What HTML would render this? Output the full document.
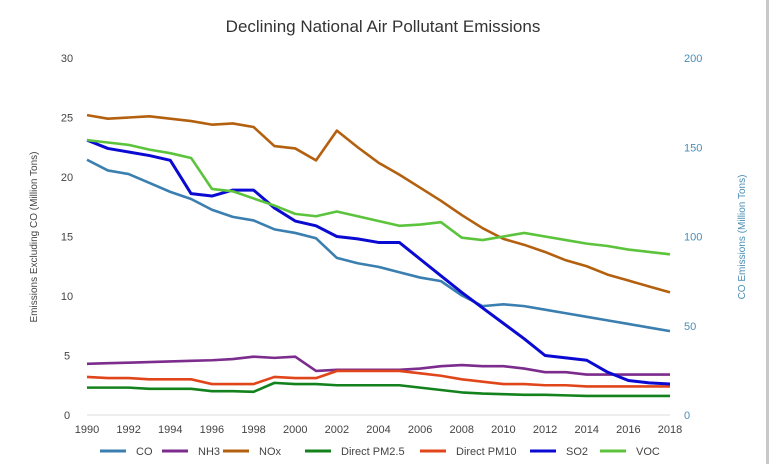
<!DOCTYPE html>
<html><head><meta charset="utf-8"><style>
body{margin:0;background:#fff;width:769px;height:464px;overflow:hidden;font-family:"Liberation Sans",sans-serif}
svg text{font-family:"Liberation Sans",sans-serif}
</style></head><body>
<svg id="c" width="769" height="464">
<rect x="766" y="0" width="3" height="464" fill="#c8c8c8"/>
<text x="383" y="32" text-anchor="middle" font-size="17" fill="#333">Declining National Air Pollutant Emissions</text>
<text transform="translate(37,237) rotate(-90)" text-anchor="middle" font-size="10" fill="#444">Emissions Excluding CO (Million Tons)</text>
<text transform="translate(745,237) rotate(-90)" text-anchor="middle" font-size="10" fill="#4a8db5">CO Emissions (Million Tons)</text>
<g id="g"></g>
</svg>
<script>
const years=[1990,1991,1992,1993,1994,1995,1996,1997,1998,1999,2000,2001,2002,2003,2004,2005,2006,2007,2008,2009,2010,2011,2012,2013,2014,2015,2016,2017,2018];
const xTicks=[1990,1992,1994,1996,1998,2000,2002,2004,2006,2008,2010,2012,2014,2016,2018];
const leftTicks=[0,5,10,15,20,25,30];
const rightTicks=[0,50,100,150,200];
const co=[143,137,135,130,125,121,115,111,109,104,102,99,88,85,83,80,77,75,67,61,62,61,59,57,55,53,51,49,47];
const nh3=[4.3,4.35,4.4,4.45,4.5,4.55,4.6,4.7,4.9,4.8,4.9,3.7,3.8,3.8,3.8,3.8,3.9,4.1,4.2,4.1,4.1,3.9,3.6,3.6,3.4,3.4,3.4,3.4,3.4];
const nox=[25.2,24.9,25.0,25.1,24.9,24.7,24.4,24.5,24.2,22.6,22.4,21.4,23.9,22.5,21.2,20.2,19.1,18.0,16.8,15.7,14.8,14.3,13.7,13.0,12.5,11.8,11.3,10.8,10.3];
const pm25=[2.3,2.3,2.3,2.2,2.2,2.2,2.0,2.0,1.95,2.7,2.6,2.6,2.5,2.5,2.5,2.5,2.3,2.1,1.9,1.8,1.75,1.7,1.7,1.65,1.6,1.6,1.6,1.6,1.6];
const pm10=[3.2,3.1,3.1,3.0,3.0,3.0,2.6,2.6,2.6,3.2,3.1,3.1,3.7,3.7,3.7,3.7,3.5,3.3,3.0,2.8,2.6,2.6,2.5,2.5,2.4,2.4,2.4,2.4,2.4];
const so2=[23.1,22.4,22.1,21.8,21.4,18.6,18.4,18.9,18.9,17.4,16.3,15.9,15.0,14.8,14.5,14.5,13.1,11.7,10.3,9.0,7.7,6.4,5.0,4.8,4.6,3.6,2.9,2.7,2.6];
const voc=[23.1,22.9,22.7,22.3,22.0,21.6,19.0,18.8,18.2,17.6,16.9,16.7,17.1,16.7,16.3,15.9,16.0,16.2,14.9,14.7,15.0,15.3,15.0,14.7,14.4,14.2,13.9,13.7,13.5];
const series=[
 {name:'CO',data:co,color:'#3a7fb0',right:true},
 {name:'NH3',data:nh3,color:'#7b2c8c'},
 {name:'NOx',data:nox,color:'#b3600f'},
 {name:'Direct PM2.5',data:pm25,color:'#14821c'},
 {name:'Direct PM10',data:pm10,color:'#e0461a'},
 {name:'SO2',data:so2,color:'#0a0ad2'},
 {name:'VOC',data:voc,color:'#5cc43c'}];
const X0=87,X1=670,Y0=415,Y1=58;
const x=v=>X0+(v-1990)/28*(X1-X0);
const yl=v=>Y0-v/30*(Y0-Y1);
const yr=v=>Y0-v/200*(Y0-Y1);
const g=document.getElementById('g');const NS='http://www.w3.org/2000/svg';
function mk(t,a){const e=document.createElementNS(NS,t);for(const k in a)e.setAttribute(k,a[k]);g.appendChild(e);return e;}
const base=mk('line',{x1:X0,x2:X1,y1:Y0,y2:Y0,stroke:'#ddd'});


xTicks.forEach(t=>{const e=mk('text',{x:x(t),y:433,'text-anchor':'middle','font-size':11,fill:'#444'});e.textContent=t;

});
leftTicks.forEach(t=>{const e=mk('text',{x:67,y:yl(t)+4,'text-anchor':'middle','font-size':11,fill:'#444'});e.textContent=t;

});
rightTicks.forEach(t=>{const e=mk('text',{x:684,y:yr(t)+4,'text-anchor':'start','font-size':11,fill:'#4a8db5'});e.textContent=t;

});
series.forEach(s=>{const yf=s.right?yr:yl;
 const p=mk('polyline',{points:s.data.map((v,i)=>x(years[i])+','+yf(v)).join(' '),fill:'none',stroke:s.color,'stroke-width':s.name==='SO2'?3:2.6,'stroke-linejoin':'round'});
 
 });
const lx=[100,162,223,305,420,530,600];
series.forEach((s,i)=>{
 const l=mk('line',{x1:lx[i],x2:lx[i]+26,y1:451,y2:451,stroke:s.color,'stroke-width':3});
 
 
 const t=mk('text',{x:lx[i]+36,y:455,'font-size':11,fill:'#444'});t.textContent=s.name;
 
 });
</script>
</body></html>
